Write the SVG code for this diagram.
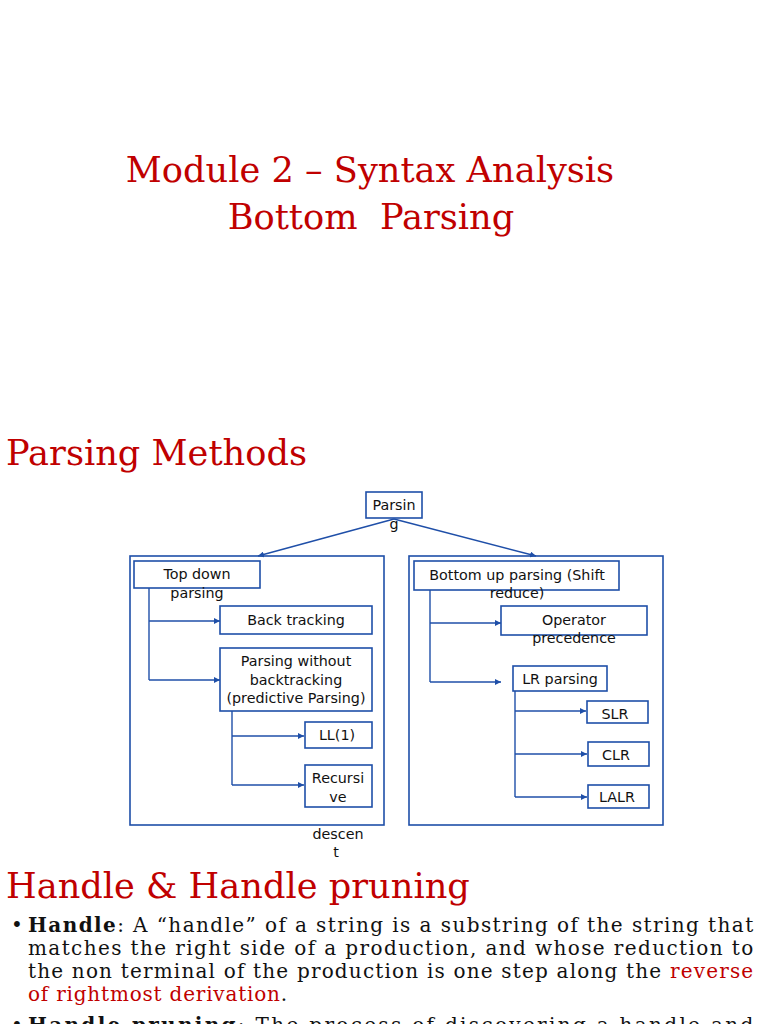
<svg xmlns="http://www.w3.org/2000/svg" width="768" height="1024" viewBox="0 0 768 1024">
<defs>
<style>
.title{font-family:"DejaVu Serif",serif;font-size:35.2px;fill:#c00000;}
.body{font-family:"DejaVu Serif",serif;font-size:20px;letter-spacing:0.8px;fill:#111;}
.red{fill:#c00000;}
.lbl{font-family:"DejaVu Sans",sans-serif;font-size:14.3px;fill:#111;text-anchor:middle;}
.box{fill:#fff;stroke:#1f4fa8;stroke-width:1.6;}
.frame{fill:none;stroke:#1f4fa8;stroke-width:1.6;}
.con{fill:none;stroke:#1f4fa8;stroke-width:1.4;}
</style>
<marker id="ah" viewBox="0 0 8 8" refX="8" refY="4" markerWidth="6" markerHeight="6" orient="auto" markerUnits="userSpaceOnUse">
<path d="M0,0 L8,4 L0,8 z" fill="#1f4fa8"/>
</marker>
</defs>
<rect width="768" height="1024" fill="#fff"/>

<text class="title" x="370" y="182" text-anchor="middle">Module 2 – Syntax Analysis</text>
<text class="title" x="371" y="229" text-anchor="middle" xml:space="preserve">Bottom  Parsing</text>
<text class="title" x="6" y="465">Parsing Methods</text>

<g id="frames">
<rect class="frame" x="130" y="556" width="254" height="269"/>
<rect class="frame" x="409" y="556" width="254" height="269"/>
</g>

<g id="connectors">
<path class="con" d="M394,519 L258,556" marker-end="url(#ah)"/>
<path class="con" d="M394,519 L536,556" marker-end="url(#ah)"/>
<path class="con" d="M149,588 V680"/>
<path class="con" d="M149,621 H220" marker-end="url(#ah)"/>
<path class="con" d="M149,680 H220" marker-end="url(#ah)"/>
<path class="con" d="M232,711 V785"/>
<path class="con" d="M232,736 H304" marker-end="url(#ah)"/>
<path class="con" d="M232,785 H304" marker-end="url(#ah)"/>
<path class="con" d="M430,590 V682"/>
<path class="con" d="M430,623 H501" marker-end="url(#ah)"/>
<path class="con" d="M430,682 H501" marker-end="url(#ah)"/>
<path class="con" d="M515,691 V797"/>
<path class="con" d="M515,711 H586" marker-end="url(#ah)"/>
<path class="con" d="M515,754 H587" marker-end="url(#ah)"/>
<path class="con" d="M515,797 H587" marker-end="url(#ah)"/>
</g>

<g id="parsing">
<rect class="box" x="366" y="492" width="56" height="26"/>
<text class="lbl" x="394" y="510">Parsin</text>
<text class="lbl" x="394" y="529">g</text>
</g>
<g id="topdown">
<rect class="box" x="134" y="561" width="126" height="27"/>
<text class="lbl" x="197" y="579">Top down</text>
<text class="lbl" x="197" y="598">parsing</text>
</g>
<g id="backtracking">
<rect class="box" x="220" y="606" width="152" height="28" stroke-width="1.1"/>
<text class="lbl" x="296" y="625">Back tracking</text>
</g>
<g id="predictive">
<rect class="box" x="220" y="648" width="152" height="63"/>
<text class="lbl" x="296" y="666">Parsing without</text>
<text class="lbl" x="296" y="685">backtracking</text>
<text class="lbl" x="296" y="703">(predictive Parsing)</text>
</g>
<g id="ll1">
<rect class="box" x="305" y="722" width="67" height="26" stroke-width="1.1"/>
<text class="lbl" x="337" y="740">LL(1)</text>
</g>
<g id="recursive">
<rect class="box" x="305" y="765" width="67" height="42"/>
<text class="lbl" x="338" y="783">Recursi</text>
<text class="lbl" x="338" y="802">ve</text>
<text class="lbl" x="338" y="839">descen</text>
<text class="lbl" x="336" y="857">t</text>
</g>
<g id="bottomup">
<rect class="box" x="414" y="561" width="205" height="29"/>
<text class="lbl" x="517" y="580">Bottom up parsing (Shift</text>
<text class="lbl" x="517" y="598">reduce)</text>
</g>
<g id="operator">
<rect class="box" x="501" y="606" width="146" height="29"/>
<text class="lbl" x="574" y="625">Operator</text>
<text class="lbl" x="574" y="643">precedence</text>
</g>
<g id="lr">
<rect class="box" x="513" y="666" width="94" height="25"/>
<text class="lbl" x="560" y="684">LR parsing</text>
</g>
<g id="slr">
<rect class="box" x="587" y="701" width="61" height="22" stroke-width="1.1"/>
<text class="lbl" x="615" y="719">SLR</text>
</g>
<g id="clr">
<rect class="box" x="588" y="742" width="61" height="24"/>
<text class="lbl" x="616" y="760">CLR</text>
</g>
<g id="lalr">
<rect class="box" x="588" y="785" width="61" height="23" stroke-width="1.1"/>
<text class="lbl" x="617" y="802">LALR</text>
</g>

<text class="title" x="6" y="898">Handle &amp; Handle pruning</text>

<g id="bullets">
<text class="body" x="11" y="932">•</text>
<text class="body" x="28" y="932" textLength="726" lengthAdjust="spacing"><tspan font-weight="bold">Handle</tspan>: A “handle” of a string is a substring of the string that</text>
<text class="body" x="28" y="955" textLength="726" lengthAdjust="spacing">matches the right side of a production, and whose reduction to</text>
<text class="body" x="28" y="978" textLength="726" lengthAdjust="spacing">the non terminal of the production is one step along the <tspan class="red">reverse</tspan></text>
<text class="body" x="28" y="1001"><tspan class="red">of rightmost derivation</tspan>.</text>
<text class="body" x="11" y="1032">•</text>
<text class="body" x="28" y="1032" textLength="726" lengthAdjust="spacing"><tspan font-weight="bold">Handle pruning</tspan>: The process of discovering a handle and</text>
</g>
</svg>
